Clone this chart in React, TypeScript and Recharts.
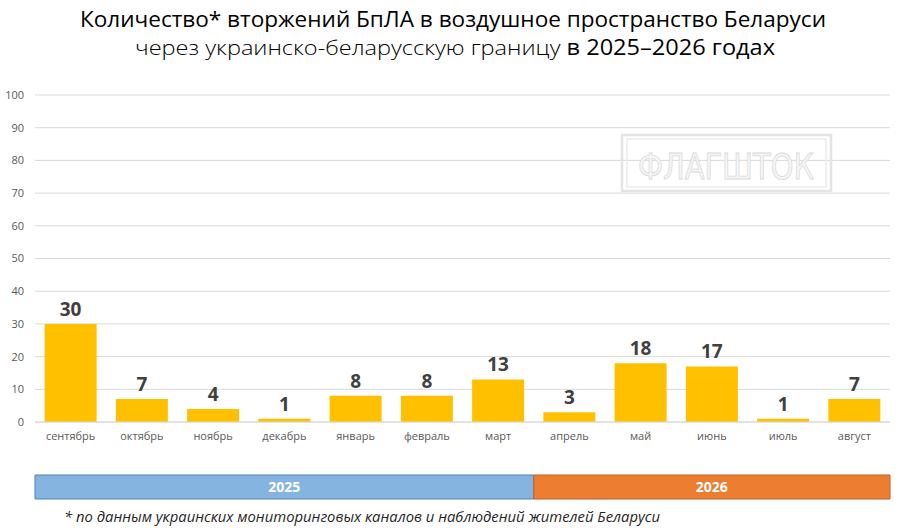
import React from 'react';
import { BarChart, Bar, XAxis, YAxis, CartesianGrid, LabelList } from 'recharts';

const months = ['сентябрь', 'октябрь', 'ноябрь', 'декабрь', 'январь', 'февраль', 'март', 'апрель', 'май', 'июнь', 'июль', 'август'];
const incursions = [30, 7, 4, 1, 8, 8, 13, 3, 18, 17, 1, 7];
const yTicks = [0, 10, 20, 30, 40, 50, 60, 70, 80, 90, 100];
const yearLabels = ['2025', '2026'];
const yearMonthCounts = [7, 5];

const data = months.map((m, i) => ({ month: m, value: incursions[i] }));
const yearRow = [{ row: 'years', y0: yearMonthCounts[0], y1: yearMonthCounts[1] }];

const FONT = '"Open Sans", "Noto Sans", sans-serif';

export default function App() {
  return (
    <div style={{ position: 'absolute', left: 0, top: 0, width: 900, height: 528, background: '#fff', overflow: 'hidden', fontFamily: FONT }}>
      <svg width={900} height={90} style={{ position: 'absolute', left: 0, top: 0 }}>
        <text x={453} y={27} textAnchor="middle" fontSize={21} fill="#000" fontFamily={FONT} textLength={746} lengthAdjust="spacingAndGlyphs">
          Количество* вторжений БпЛА в воздушное пространство Беларуси
        </text>
        <text x={455} y={55} textAnchor="middle" fontSize={21} fill="#000" fontFamily={FONT} textLength={640} lengthAdjust="spacingAndGlyphs">
          <tspan fontWeight={300}>через украинско-беларусскую границу </tspan>
          <tspan fontWeight={500}>в 2025–2026 годах</tspan>
        </text>
      </svg>

      <div style={{ position: 'absolute', left: 0, top: 0 }}>
        <BarChart width={900} height={460} data={data} margin={{ top: 95, right: 10, bottom: 8, left: 0 }} barCategoryGap="13.5%">
          <CartesianGrid vertical={false} stroke="#D9D9D9" />
          <XAxis dataKey="month" axisLine={{ stroke: '#D9D9D9' }} tickLine={false} tickSize={0} tickMargin={10} height={30} interval={0}
            tick={{ fontSize: 11, fill: '#595959', fontFamily: FONT }} />
          <YAxis domain={[0, 100]} ticks={yTicks} width={35} axisLine={false} tickLine={false} tickSize={0} tickMargin={11}
            tick={{ fontSize: 11, fill: '#595959', fontFamily: FONT }} interval={0} />
          <Bar dataKey="value" fill="#FFC000" isAnimationActive={false}>
            <LabelList dataKey="value" position="top" offset={8} style={{ fontSize: 19, fontWeight: 700, fill: '#404040', fontFamily: FONT }} />
          </Bar>
        </BarChart>
      </div>

      <svg width={900} height={528} style={{ position: 'absolute', left: 0, top: 0, pointerEvents: 'none' }}>
        <rect x={622} y={135} width={209} height={56} fill="none" stroke="#E4E4E4" strokeWidth={2.5} />
        <rect x={627} y={139} width={199} height={48} fill="none" stroke="#ECECEC" strokeWidth={1.5} />
        <text x={726} y={179} textAnchor="middle" fontSize={36} fill="#F6F6F6" stroke="#DADADA" strokeWidth={0.8} fontFamily='"DejaVu Sans Condensed", "DejaVu Sans", sans-serif' textLength={176} lengthAdjust="spacingAndGlyphs">
          ФЛАГШТОК
        </text>
      </svg>

      <div style={{ position: 'absolute', left: 0, top: 470 }}>
        <BarChart width={900} height={34} data={yearRow} layout="vertical" margin={{ top: 5, right: 10, bottom: 5, left: 35 }} barCategoryGap={0}>
          <XAxis type="number" domain={[0, 12]} hide />
          <YAxis type="category" dataKey="row" hide />
          <Bar dataKey="y0" stackId="y" fill="#85B4E0" stroke="#4F81BD" strokeWidth={1} isAnimationActive={false}>
            <LabelList position="center" content={(p: any) => (
              <text x={p.x + p.width / 2} y={p.y + p.height / 2 + 5} textAnchor="middle" fontSize={14} fontWeight={700} fill="#fff" fontFamily={FONT}>{yearLabels[0]}</text>
            )} />
          </Bar>
          <Bar dataKey="y1" stackId="y" fill="#ED7D31" stroke="#C0602A" strokeWidth={1} isAnimationActive={false}>
            <LabelList position="center" content={(p: any) => (
              <text x={p.x + p.width / 2} y={p.y + p.height / 2 + 5} textAnchor="middle" fontSize={14} fontWeight={700} fill="#fff" fontFamily={FONT}>{yearLabels[1]}</text>
            )} />
          </Bar>
        </BarChart>
      </div>

      <svg width={900} height={40} style={{ position: 'absolute', left: 0, top: 500 }}>
        <text x={64} y={22} fontSize={15} fontStyle="italic" fill="#262626" fontFamily={FONT} textLength={596} lengthAdjust="spacingAndGlyphs">
          * по данным украинских мониторинговых каналов и наблюдений жителей Беларуси
        </text>
      </svg>
    </div>
  );
}
